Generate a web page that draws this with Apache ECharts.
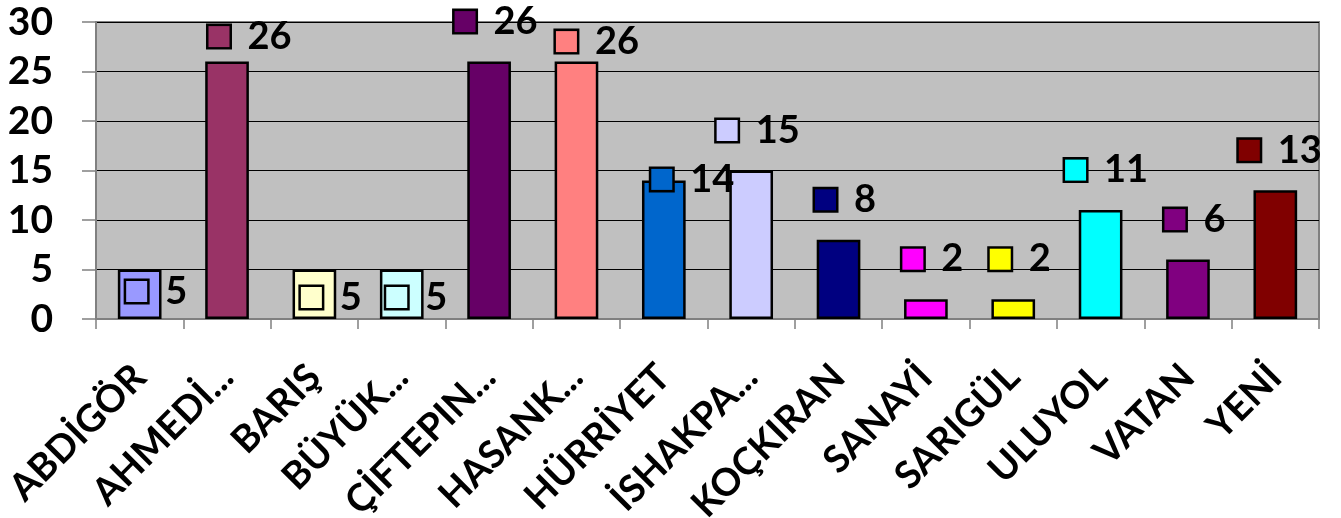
<!DOCTYPE html>
<html>
<head>
<meta charset="utf-8">
<script src="https://cdn.jsdelivr.net/npm/echarts@6/dist/echarts.min.js"></script>
<style>
  html, body { margin: 0; padding: 0; background: #fff; }
  #main { width: 1341px; height: 518px; }
</style>
</head>
<body>
<div id="main"></div>
<script>
// data
const categories = ["ABDİGÖR", "AHMEDİ...", "BARIŞ", "BÜYÜK...", "ÇİFTEPIN...", "HASANK...", "HÜRRİYET",
  "İSHAKPA...", "KOÇKIRAN", "SANAYİ", "SARIGÜL", "ULUYOL", "VATAN", "YENİ"];
const values = [5, 26, 5, 5, 26, 26, 14, 15, 8, 2, 2, 11, 6, 13];
const yTicks = [0, 5, 10, 15, 20, 25, 30];

// one colour per bar (excel palette)
const colors = ["#9999FF", "#993366", "#FFFFCC", "#CCFFFF", "#660066", "#FF8080", "#0066CC",
  "#CCCCFF", "#000080", "#FF00FF", "#FFFF00", "#00FFFF", "#800080", "#800000"];
// where excel dropped each label, relative to the top of the bar
const labelOffsets = [[17, 37], [23, -10], [17, 43], [15, 43], [7, -25], [21, -5], [29, 14],
  [7, -25], [7, -25], [7, -25], [7, -25], [6, -25], [7, -25], [5, -25]];

const FONT = "Lato";

var chart = echarts.init(document.getElementById("main"));

var option = {
  animation: false,
  grid: {
    left: 96,
    right: 22,
    top: 22,
    bottom: 199,
    outerBoundsMode: "none",
    show: true,
    backgroundColor: "#C0C0C0",
    borderColor: "#808080",
    borderWidth: 2,
  },
  xAxis: {
    type: "category",
    data: categories,
    axisLine: { lineStyle: { color: "#808080", width: 2 } },
    axisTick: { show: true, length: 10, lineStyle: { color: "#808080", width: 1.5 } },
    axisLabel: {
      rotate: 45,
      interval: 0,
      margin: 52,
      color: "#000",
      fontFamily: FONT,
      fontWeight: "bold",
      fontSize: 38,
    },
  },
  yAxis: {
    type: "value",
    min: yTicks[0],
    max: yTicks[yTicks.length - 1],
    interval: 5,
    axisLine: { show: true, lineStyle: { color: "#808080", width: 2 } },
    axisTick: { show: true, length: 14, lineStyle: { color: "#808080", width: 1.5 } },
    splitLine: { lineStyle: { color: "#000", width: 1.2 } },
    axisLabel: {
      margin: 43,
      color: "#000",
      fontFamily: FONT,
      fontWeight: "bold",
      fontSize: 39,
    },
  },
  series: [
    {
      type: "bar",
      barWidth: "50%",
      data: values.map(function (v, i) {
        return {
          value: v,
          itemStyle: { color: colors[i] },
          label: {
            offset: labelOffsets[i],
            rich: {
              sq: {
                width: 21,
                height: 21,
                backgroundColor: colors[i],
                borderColor: "#000",
                borderWidth: 2.5,
              },
            },
          },
        };
      }),
      itemStyle: { borderColor: "#000", borderWidth: 2.5 },
      label: {
        show: true,
        position: "top",
        distance: 0,
        verticalAlign: "bottom",
        formatter: function (p) {
          return "{sq|}{v|" + p.value + "}";
        },
        rich: {
          v: {
            fontFamily: FONT,
            fontWeight: "bold",
            fontSize: 38,
            color: "#000",
            lineHeight: 30,
            padding: [0, 0, 0, 18],
          },
        },
      },
    },
  ],
};

option && chart.setOption(option);
</script>
</body>
</html>
